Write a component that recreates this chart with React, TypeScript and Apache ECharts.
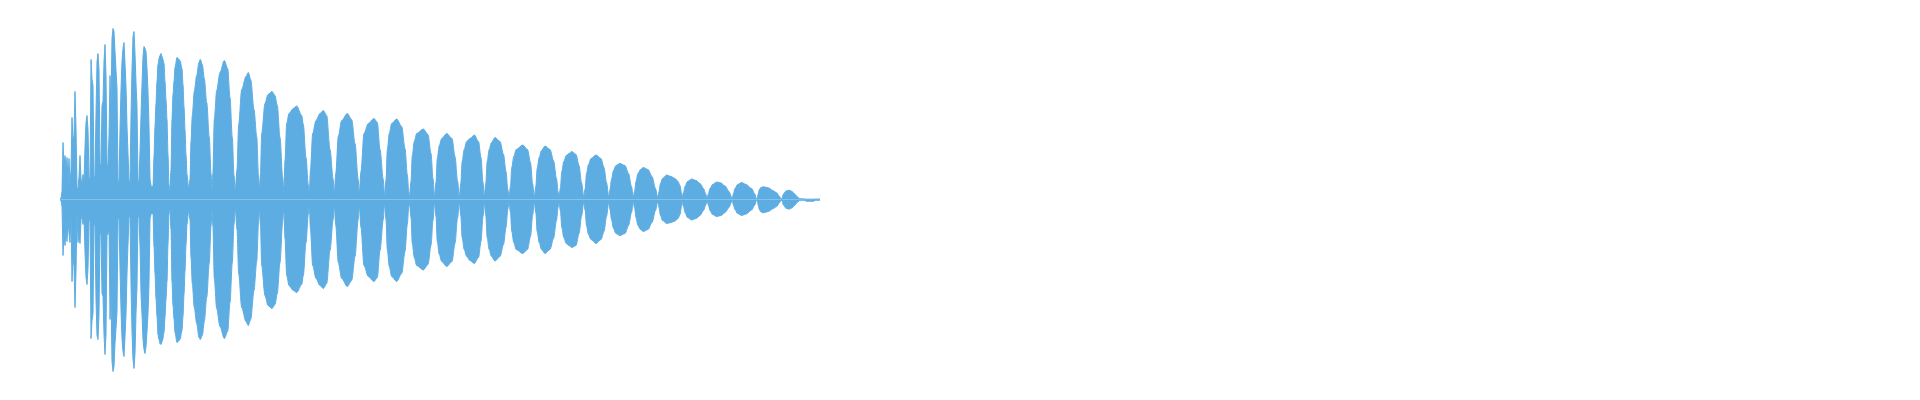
import React, { useEffect, useRef } from "react";
import * as echarts from "echarts";

// Waveform envelope, x = sample column, values = [column, peak above centre, trough below centre]
const onsetColumns: number[][] = [
  [60, 0.5, 0.5], [61, 1, 1], [62, 8, 7], [63, 57, 56], [64, 34, 34], [65, 44, 46], [66, 30, 30],
  [67, 42, 42], [68, 20, 20], [69, 41, 34], [70, 14, 43], [71, 30, 14], [72, 82, 82], [73, 58, 57],
  [74, 64, 67], [75, 108, 108], [76, 71, 72], [77, 11, 10], [78, 11, 43], [79, 23, 34], [80, 44, 44],
  [81, 21, 20], [82, 16, 17], [83, 25, 25], [84, 18, 19], [85, 53, 53], [86, 77, 78], [87, 84, 85],
  [88, 70, 69], [89, 23, 22], [90, 18, 17], [91, 140, 139], [92, 120, 121], [93, 114, 114], [94, 23, 20],
  [95, 24, 27], [96, 86, 100], [97, 138, 136], [98, 146, 140], [99, 130, 114], [100, 36, 34], [101, 33, 35],
  [102, 94, 94], [103, 98, 97], [104, 138, 135], [105, 155, 155], [106, 124, 135], [107, 36, 35],
  [108, 35, 35], [109, 64, 27], [110, 124, 120], [111, 90, 92], [112, 161, 162], [113, 171, 172],
  [114, 168, 167], [115, 148, 144], [116, 129, 129], [117, 111, 112], [118, 18, 19], [119, 18, 19],
  [120, 70, 69], [121, 110, 110], [122, 138, 139], [123, 151, 152], [124, 157, 157], [125, 136, 137],
  [126, 113, 115], [127, 73, 74], [128, 46, 45], [129, 18, 17], [130, 18, 17], [131, 83, 84],
  [132, 130, 132], [133, 163, 160], [134, 168, 169], [135, 146, 154], [136, 116, 114], [137, 93, 87],
  [138, 18, 17], [139, 18, 17], [140, 48, 47], [141, 84, 94], [142, 115, 115], [143, 143, 140],
  [144, 153, 150], [145, 151, 154], [146, 148, 147], [147, 131, 132], [148, 108, 114], [149, 73, 84],
  [150, 21, 20],
];

const beatLobes: number[][] = [
  // lobe 150-170
  [150, 21, 20], [151.5, 13, 14], [153, 13, 14], [154, 43, 47], [155, 73, 74], [156, 96, 99],
  [157, 118, 117], [158, 135, 135], [159, 141, 140], [160, 144, 144], [161, 146, 145], [162, 143, 142],
  [163, 140, 139], [164, 136, 133], [165, 118, 118], [166, 100, 100], [167, 80, 82], [168, 45, 45],
  [169, 15, 15], [170, 9, 9],
  // lobe 170-189
  [171, 30, 30], [172, 80, 82], [173, 105, 106], [174, 118, 119], [175, 132, 133], [177, 142, 143],
  [180, 139, 140], [182, 131, 131], [183, 115, 117], [184, 93, 95], [185, 70, 72], [186, 45, 46],
  [187, 25, 25], [188.5, 12, 12],
  // lobe 189-212
  [190, 20, 20], [191, 58, 58], [192.3, 84, 84], [194.3, 108, 108], [196.7, 124, 124], [199, 137, 138],
  [200.3, 140, 140], [202.3, 135, 136], [204.3, 121, 122], [206.7, 97, 98], [209.3, 62, 63], [211, 26, 27],
  [212, 10, 10],
  // lobe 212-235
  [212.9, 26, 26], [214.3, 80, 79], [216.7, 109, 109], [220, 127, 127], [224.3, 139, 139], [227.7, 131, 132],
  [230, 102, 103], [232.3, 62, 63], [234, 24, 25], [235.3, 9, 9],
  // lobe 236-259
  [237, 30, 30], [238.7, 75, 74], [241.7, 110, 108], [246, 123, 122], [248.3, 127, 126], [250.7, 120, 120],
  [254, 90, 91], [256.7, 63, 62], [258.6, 22, 22], [259.5, 9, 9],
  // lobe 260-284
  [260.5, 26, 26], [261.7, 66, 66], [265, 96, 96], [268, 105, 106], [272, 108, 109], [275, 104, 105],
  [277.3, 94, 94], [280, 62, 63], [282.7, 22, 22], [283.8, 8, 8],
  // lobe 284-309
  [285, 39, 39], [286.7, 76, 76], [289, 86, 86], [293.3, 91, 91], [296.7, 93.5, 93], [301.7, 84, 85],
  [303.3, 75, 76], [306, 42, 43], [308.3, 15, 15], [309.3, 6, 6],
  // lobe 309-334
  [310.5, 30, 30], [312.7, 66, 66], [316, 79, 79], [320, 86, 86], [323.3, 89, 89], [326.7, 84, 84],
  [330, 50, 51], [333.2, 20, 20], [334.3, 6, 6],
  // lobe 334-359
  [335.8, 26, 26], [338.3, 63, 63], [341.7, 79, 79], [347.3, 86, 87], [351.7, 80, 81], [355, 56, 57],
  [358.2, 20, 20], [359.3, 6, 6],
  // lobe 359-385
  [361, 28, 28], [364, 66, 66], [368.3, 76, 77], [374, 81, 82], [377.3, 77, 78], [380, 50, 51],
  [383.3, 20, 20], [384.5, 4, 4],
  // lobe 385-409
  [386, 19.5, 20], [387.3, 49.5, 50], [389.3, 66, 67], [391.7, 76, 77], [396.7, 80.5, 82], [401.7, 73, 74],
  [405, 51, 52], [407.3, 25, 25], [408.7, 8, 8], [409.5, 3, 3],
  // lobe 410-434
  [411, 18, 18], [412.3, 44, 44], [414.3, 58, 58], [416.7, 66, 66], [423.3, 70.5, 70.5], [428, 65, 65],
  [431, 46, 46], [433, 21, 21], [434.5, 3, 3],
  // lobe 434-459
  [436, 17, 17], [437.3, 41, 42], [439.3, 54, 55], [441.7, 61, 62], [446.7, 66, 67], [452, 61, 62],
  [455, 43, 44], [457.5, 19, 19], [459.3, 3, 3],
  // lobe 459-484
  [460.8, 16, 16], [462.2, 38, 38], [464.2, 50, 50], [466.7, 58, 57], [470, 61, 61], [474.3, 64.5, 64],
  [478.5, 58, 58], [481, 42, 42], [483, 17, 17], [484.3, 3, 3],
  // lobe 484-509
  [485.8, 16, 16], [487.2, 38, 38], [489.2, 50, 50], [491.5, 57, 57], [495, 62, 61.5], [500, 58, 57],
  [503.5, 45, 45], [506, 28, 28], [507.8, 10, 10], [509, 3, 3],
  // lobe 509-534
  [510.5, 13, 13], [511.8, 32, 32], [513.8, 43, 43], [516.2, 50, 50], [522.7, 54.5, 54], [527.5, 50, 50],
  [530.5, 37, 37], [532.6, 16, 16], [534.3, 3, 3],
  // lobe 534-559
  [535.8, 13, 13], [537.2, 31, 32], [539.2, 42, 43], [541.5, 49, 50], [545, 53.5, 54], [550, 50, 50],
  [553.5, 39, 39], [556.5, 21, 21], [558, 8, 8], [559, 3, 3],
  // lobe 559-584
  [560.5, 12, 12], [561.8, 28, 28], [563.8, 38, 38], [566.2, 44, 44], [569, 46, 46], [571.7, 48, 48],
  [576, 45, 46], [579, 34, 34], [581.5, 17, 17], [583.7, 3, 3],
  // lobe 584-609
  [585.2, 11, 11], [586.5, 26, 26], [588.5, 35, 35], [591, 41, 40], [596, 44.5, 44], [601, 41, 40],
  [604, 32, 32], [606.5, 17, 17], [608.7, 3, 3],
  // lobe 609-633
  [610, 10, 10], [611.5, 20, 20], [613.5, 29, 29], [616, 34, 34], [620, 36, 36], [625, 34, 34],
  [628.5, 26, 26], [631.5, 13, 13], [633.3, 3, 3],
  // lobe 633-658
  [634.7, 9, 9], [636, 18, 18], [638, 26, 26], [640.5, 30, 30], [643.3, 32, 32], [648, 30, 30],
  [652, 23, 23], [655.5, 11, 11], [657.7, 2, 2],
  // lobe 658-682
  [659, 8, 8], [660.5, 16, 16], [662.5, 21, 21], [666.7, 24.5, 24], [671, 23, 23], [675, 21, 21.5],
  [678, 18, 19], [680, 14, 15], [681.5, 7, 7], [682.3, 2, 2],
  // lobe 682-707
  [683.5, 7, 7], [685, 13, 13], [687.5, 18, 18], [691.7, 20.5, 20.5], [696, 19, 19], [700, 16, 16],
  [703.5, 11, 11], [706, 5, 5], [707.3, 1.5, 1.5],
  // lobe 707-732
  [708.5, 6, 6], [710, 11, 11], [712.5, 15, 15], [716.7, 17.5, 17], [721, 16.5, 16], [725, 13.5, 13],
  [729, 8, 8], [731.3, 3, 3], [732.3, 1, 1],
  // lobe 732-757
  [733.5, 6, 6], [735, 11, 10], [737.5, 15, 14], [741.7, 17, 16], [746, 15, 14.5], [751.7, 11, 10.5],
  [754.5, 6, 6], [756.5, 1, 1],
  // lobe 757-781
  [757.3, 0.7, 0.7], [758.3, 6, 6], [759.3, 10, 10], [761, 12, 12.5], [763.3, 12.7, 13.3], [768.3, 11.7, 12],
  [773.3, 8.7, 9], [776.7, 6.7, 7], [779.3, 3.3, 3.5], [781, 1, 1],
  // lobe 782-800
  [782, 0.7, 0.7], [783.3, 5.3, 5.3], [785.7, 8.3, 8.5], [789, 9.3, 9.7], [791.7, 8.3, 8.5],
  [795, 5.3, 5.5], [797.3, 2.7, 2.8], [800, 0.7, 0.8],
];

const decayTail: number[][] = [
  [805, 0.5, 0.8], [806, 0.3, 1.7], [814, 0.3, 1.7], [815, 0.5, 0.8], [820, 0.5, 0.8],
];

const WAVE_COLOR = "#5DADE2";

export default function App() {
  const ref = useRef<HTMLDivElement>(null);

  useEffect(() => {
    if (!ref.current) return;
    const chart = echarts.init(ref.current, undefined, { renderer: "svg" });
    const upperOf = (rows: number[][]) => rows.map((p) => [p[0], p[1]]);
    const lowerOf = (rows: number[][]) => rows.map((p) => [p[0], -p[2]]);
    const beats = [...beatLobes, ...decayTail];
    const seriesBase = {
      type: "line" as const,
      showSymbol: false,
      symbol: "none",
      silent: true,
      lineStyle: { color: WAVE_COLOR, width: 1 },
      itemStyle: { color: WAVE_COLOR },
      areaStyle: { color: WAVE_COLOR, opacity: 1 },
    };
    chart.setOption({
      animation: false,
      backgroundColor: "#ffffff",
      grid: { left: 0, right: 0, top: 0, bottom: 0 },
      xAxis: { type: "value", min: 0, max: 1920, show: false },
      yAxis: { type: "value", min: -200.5, max: 199.5, show: false },
      series: [
        { ...seriesBase, name: "onsetUpper", smooth: false, data: upperOf(onsetColumns) },
        { ...seriesBase, name: "onsetLower", smooth: false, data: lowerOf(onsetColumns) },
        { ...seriesBase, name: "beatUpper", smooth: 0.3, smoothMonotone: "x", data: upperOf(beats) },
        { ...seriesBase, name: "beatLower", smooth: 0.3, smoothMonotone: "x", data: lowerOf(beats) },
      ],
    });
    return () => chart.dispose();
  }, []);

  return (
    <div
      ref={ref}
      style={{ position: "fixed", left: 0, top: 0, width: 1920, height: 400, background: "#fff" }}
    />
  );
}
